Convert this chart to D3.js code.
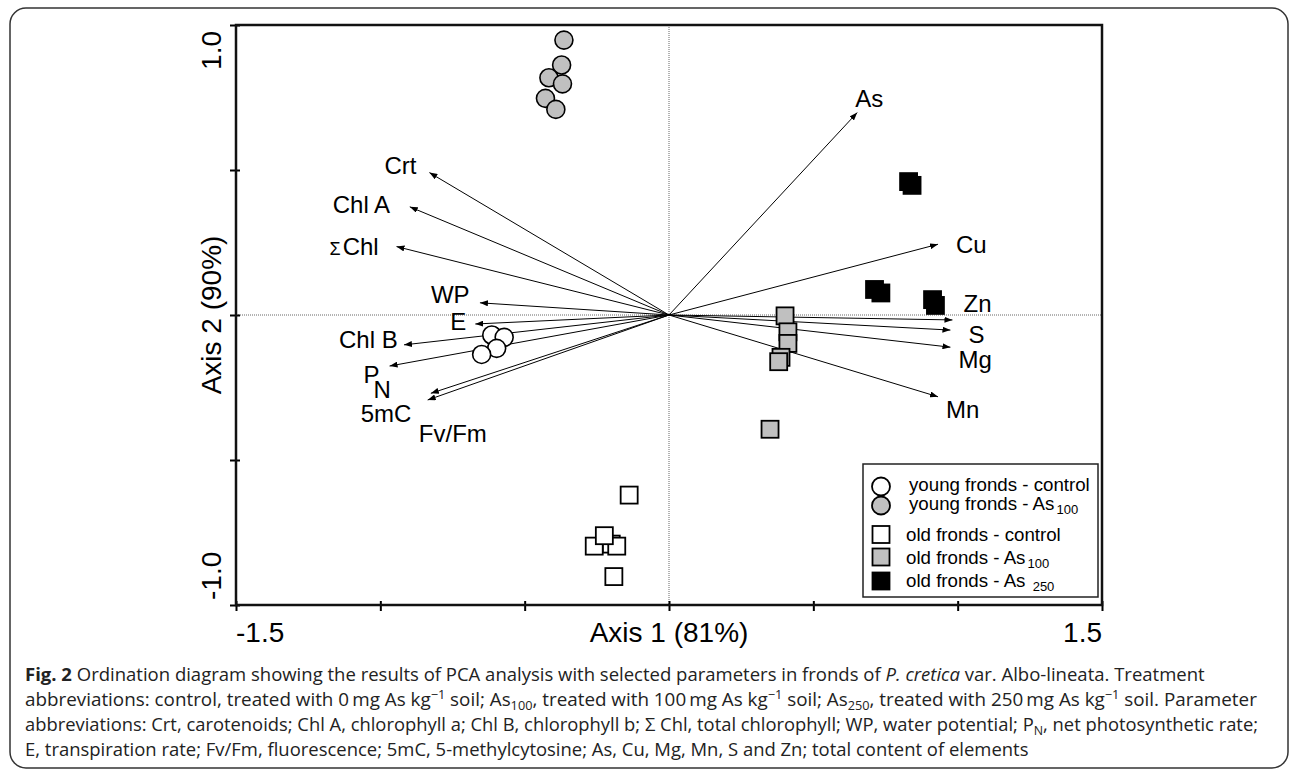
<!DOCTYPE html>
<html>
<head>
<meta charset="utf-8">
<script src="https://cdn.jsdelivr.net/npm/d3@7"></script>
<style>
  body { margin: 0; background: #fff; }
  .plot text { font-family: "Liberation Sans", Arial, sans-serif; fill: #000; }
  .caption text { font-family: "Open Sans", "Noto Sans", sans-serif; fill: #222; }
</style>
</head>
<body>
<svg id="fig" width="1292" height="774"></svg>
<script>
// ---- data ----
const youngControl = [[-0.610, -0.072], [-0.614, -0.069], [-0.571, -0.077], [-0.597, -0.115], [-0.649, -0.136]];
const youngAs100 = [[-0.364, 0.948], [-0.372, 0.862], [-0.416, 0.818], [-0.369, 0.797], [-0.428, 0.747], [-0.392, 0.709]];
const oldControl = [[-0.200, -0.790], [-0.138, -0.621], [-0.259, -0.797], [-0.181, -0.797], [-0.224, -0.761], [-0.191, -0.902]];
const oldAs100 = [[0.402, -0.003], [0.412, -0.058], [0.412, -0.098], [0.388, -0.146], [0.380, -0.161], [0.350, -0.394]];
const oldAs250 = [[0.830, 0.460], [0.842, 0.447], [0.712, 0.088], [0.734, 0.076], [0.913, 0.053], [0.923, 0.033]];

const vectorNames = ["Crt", "Chl A", "Chl", "WP", "E", "Chl B", "P", "5mC", "Fv/Fm", "As", "Cu", "Zn", "S", "Mg", "Mn"];
const vectorX = [-0.830, -0.898, -0.944, -0.655, -0.671, -0.918, -0.968, -0.836, -0.825, 0.652, 0.932, 0.982, 0.975, 0.975, 0.932];
const vectorY = [0.491, 0.373, 0.236, 0.042, -0.031, -0.103, -0.176, -0.293, -0.270, 0.698, 0.244, -0.017, -0.052, -0.111, -0.282];

const xTicks = [-1.5, -1, -0.5, 0, 0.5, 1, 1.5];
const yTicks = [-1, -0.5, 0, 0.5, 1];
const xTickLabels = ["-1.5", "1.5"];
const yTickLabels = ["-1.0", "1.0"];

const legendLabels = ["young fronds - control", "young fronds - As", "old fronds - control", "old fronds - As", "old fronds - As "];
const legendSubs = ["", "100", "", "100", "250"];

// ---- layout ----
const svg = d3.select("#fig");
const plot = { left: 236, right: 1102, top: 25, bottom: 605 };

const x = d3.scaleLinear().domain([-1.5, 1.5]).range([plot.left, plot.right]);
const y = d3.scaleLinear().domain([-1, 1]).range([plot.bottom, plot.top]);

// outer figure box
svg.append("rect")
  .attr("x", 10).attr("y", 8).attr("width", 1278).attr("height", 760)
  .attr("rx", 16).attr("fill", "none").attr("stroke", "#333").attr("stroke-width", 1.5);

const g = svg.append("g").attr("class", "plot");

// dotted zero lines
g.append("line")
  .attr("x1", x(0)).attr("x2", x(0)).attr("y1", plot.top).attr("y2", plot.bottom)
  .attr("stroke", "#666").attr("stroke-width", 1).attr("stroke-dasharray", "1,1");
g.append("line")
  .attr("x1", plot.left).attr("x2", plot.right).attr("y1", y(0)).attr("y2", y(0))
  .attr("stroke", "#666").attr("stroke-width", 1).attr("stroke-dasharray", "1,1");

// axes (ticks only, frame drawn separately)
const xAxis = g.append("g")
  .attr("transform", "translate(0," + plot.bottom + ")")
  .call(d3.axisBottom(x).tickValues(xTicks).tickFormat("").tickSizeOuter(0));
xAxis.select(".domain").remove();
xAxis.selectAll(".tick line").attr("y1", -4).attr("y2", 6).attr("stroke-width", 2);

const yAxis = g.append("g")
  .attr("transform", "translate(" + plot.left + ",0)")
  .call(d3.axisLeft(y).tickValues(yTicks).tickFormat("").tickSizeOuter(0));
yAxis.select(".domain").remove();
yAxis.selectAll(".tick line").attr("x1", 4).attr("x2", -6).attr("stroke-width", 2);

g.append("rect")
  .attr("x", plot.left).attr("y", plot.top)
  .attr("width", plot.right - plot.left).attr("height", plot.bottom - plot.top)
  .attr("fill", "none").attr("stroke", "#111").attr("stroke-width", 2.5);

// tick labels at the ends of the axes
g.append("text").attr("x", x(-1.5)).attr("y", 642).attr("font-size", 28)
  .attr("text-anchor", "start").text(xTickLabels[0]);
g.append("text").attr("x", x(1.5)).attr("y", 642).attr("font-size", 28)
  .attr("text-anchor", "end").text(xTickLabels[1]);
g.append("text").attr("transform", "translate(221," + (y(-1) - 5) + ") rotate(-90)")
  .attr("font-size", 28).attr("text-anchor", "start").text(yTickLabels[0]);
g.append("text").attr("transform", "translate(221," + (y(1) + 6) + ") rotate(-90)")
  .attr("font-size", 28).attr("text-anchor", "end").text(yTickLabels[1]);

// axis titles
g.append("text").attr("x", x(0)).attr("y", 642).attr("font-size", 28)
  .attr("text-anchor", "middle").text("Axis 1 (81%)");
g.append("text").attr("transform", "translate(221," + y(0) + ") rotate(-90)")
  .attr("font-size", 28).attr("text-anchor", "middle").text("Axis 2 (90%)");

// arrow heads
svg.append("defs").append("marker")
  .attr("id", "head").attr("viewBox", "0 0 10 10").attr("refX", 10).attr("refY", 5)
  .attr("markerWidth", 8).attr("markerHeight", 6).attr("markerUnits", "userSpaceOnUse")
  .attr("preserveAspectRatio", "none").attr("orient", "auto")
  .append("path").attr("d", "M0,0L10,5L0,10z").attr("fill", "#000");

// parameter vectors
const vectors = vectorNames.map((n, i) => ({ name: n, vx: vectorX[i], vy: vectorY[i] }));
g.append("g").selectAll("line")
  .data(vectors)
  .join("line")
  .attr("x1", x(0)).attr("y1", y(0))
  .attr("x2", d => x(d.vx)).attr("y2", d => y(d.vy))
  .attr("stroke", "#000").attr("stroke-width", 1)
  .attr("marker-end", "url(#head)");

// label nudges (from arrow tip to label start / baseline)
const nudge = {
  "Crt": [-45, 1], "Chl A": [-77, 6], "Chl": [-67, 8], "WP": [-49, 0], "E": [-25, 6],
  "Chl B": [-65, 3], "P": [-26, 17], "5mC": [-67, 22], "Fv/Fm": [-12, 49],
  "As": [-2, -6], "Cu": [18, 9], "Zn": [11, -8], "S": [18, 13], "Mg": [8, 21], "Mn": [8, 21]
};
vectors.forEach(d => {
  const t = g.append("text")
    .attr("x", x(d.vx) + nudge[d.name][0])
    .attr("y", y(d.vy) + nudge[d.name][1])
    .attr("font-size", 24);
  if (d.name === "Chl") {
    t.append("tspan").attr("font-size", 18).text("\u03A3");
    t.append("tspan").attr("dx", 2).text("Chl");
  } else if (d.name === "P") {
    t.append("tspan").text("P");
    t.append("tspan").attr("dx", -6).attr("dy", 15).text("N");
  } else {
    t.text(d.name);
  }
});

// sample points
const circleGroups = [
  { pts: youngControl, fill: "#fff" },
  { pts: youngAs100, fill: "#c0c0c0" }
];
const squareGroups = [
  { pts: oldControl, fill: "#fff", stroke: "#000" },
  { pts: oldAs100, fill: "#c0c0c0", stroke: "#000" },
  { pts: oldAs250, fill: "#000", stroke: "#000" }
];
circleGroups.forEach(grp => {
  g.append("g").selectAll("circle")
    .data(grp.pts)
    .join("circle")
    .attr("cx", d => x(d[0])).attr("cy", d => y(d[1])).attr("r", 9)
    .attr("fill", grp.fill).attr("stroke", "#000").attr("stroke-width", 1.6);
});
const side = 17;
squareGroups.forEach(grp => {
  g.append("g").selectAll("rect")
    .data(grp.pts)
    .join("rect")
    .attr("x", d => x(d[0]) - side / 2).attr("y", d => y(d[1]) - side / 2)
    .attr("width", side).attr("height", side)
    .attr("fill", grp.fill).attr("stroke", grp.stroke).attr("stroke-width", 1.8);
});

// legend
const lg = g.append("g");
lg.append("rect")
  .attr("x", 863).attr("y", 464).attr("width", 235).attr("height", 133)
  .attr("fill", "#fff").attr("stroke", "#222").attr("stroke-width", 1.5);
const legendRows = [
  { cy: 486.5, base: 491, tx: 909, shape: "circle", fill: "#fff" },
  { cy: 505.5, base: 510, tx: 909, shape: "circle", fill: "#c0c0c0" },
  { cy: 534.5, base: 541, tx: 906, shape: "square", fill: "#fff" },
  { cy: 557, base: 563.5, tx: 906, shape: "square", fill: "#c0c0c0" },
  { cy: 581, base: 586.5, tx: 906, shape: "square", fill: "#000" }
];
legendRows.forEach((r, i) => {
  if (r.shape === "circle") {
    lg.append("circle").attr("cx", 881).attr("cy", r.cy).attr("r", 9)
      .attr("fill", r.fill).attr("stroke", "#000").attr("stroke-width", 1.8);
  } else {
    lg.append("rect").attr("x", 881 - 8.5).attr("y", r.cy - 8.5).attr("width", 17).attr("height", 17)
      .attr("fill", r.fill).attr("stroke", "#000").attr("stroke-width", 1.8);
  }
  const t = lg.append("text").attr("x", r.tx).attr("y", r.base).attr("font-size", 18.7);
  t.append("tspan").text(legendLabels[i]);
  if (legendSubs[i]) {
    t.append("tspan").attr("dx", 2).attr("dy", 4).attr("font-size", 13).text(legendSubs[i]);
  }
});

// caption
const cap = svg.append("g").attr("class", "caption");
const sup = "\u22121";
const captionLines = [
  { w: 1180, runs: [
    { t: "Fig. 2", bold: true },
    { t: " Ordination diagram showing the results of PCA analysis with selected parameters in fronds of " },
    { t: "P. cretica", italic: true },
    { t: " var. Albo-lineata. Treatment" }] },
  { w: 1233, runs: [
    { t: "abbreviations: control, treated with 0\u2009mg As kg" }, { t: sup, shift: -7, small: true },
    { t: " soil; As" }, { t: "100", shift: 4, small: true },
    { t: ", treated with 100\u2009mg As kg" }, { t: sup, shift: -7, small: true },
    { t: " soil; As" }, { t: "250", shift: 4, small: true },
    { t: ", treated with 250\u2009mg As kg" }, { t: sup, shift: -7, small: true },
    { t: " soil. Parameter" }] },
  { w: 1234, runs: [
    { t: "abbreviations: Crt, carotenoids; Chl A, chlorophyll a; Chl B, chlorophyll b; \u03A3 Chl, total chlorophyll; WP, water potential; P" },
    { t: "N", shift: 4, small: true },
    { t: ", net photosynthetic rate;" }] },
  { w: 1004, runs: [
    { t: "E, transpiration rate; Fv/Fm, fluorescence; 5mC, 5-methylcytosine; As, Cu, Mg, Mn, S and Zn; total content of elements" }] }
];
const capBase = [681, 706, 731, 756];
captionLines.forEach((line, i) => {
  const t = cap.append("text").attr("x", 0).attr("y", 0).attr("font-size", 18.5);
  let cur = 0;
  line.runs.forEach(r => {
    const want = r.shift || 0;
    const ts = t.append("tspan").attr("dy", want - cur).text(r.t);
    cur = want;
    if (r.bold) ts.attr("font-weight", "bold");
    if (r.italic) ts.attr("font-style", "italic");
    if (r.small) ts.attr("font-size", 12.5);
  });
  const natural = t.node().getComputedTextLength();
  const k = line.w / natural;
  t.attr("transform", "translate(25," + capBase[i] + ") scale(" + k + ",1)");
});
</script>
</body>
</html>
